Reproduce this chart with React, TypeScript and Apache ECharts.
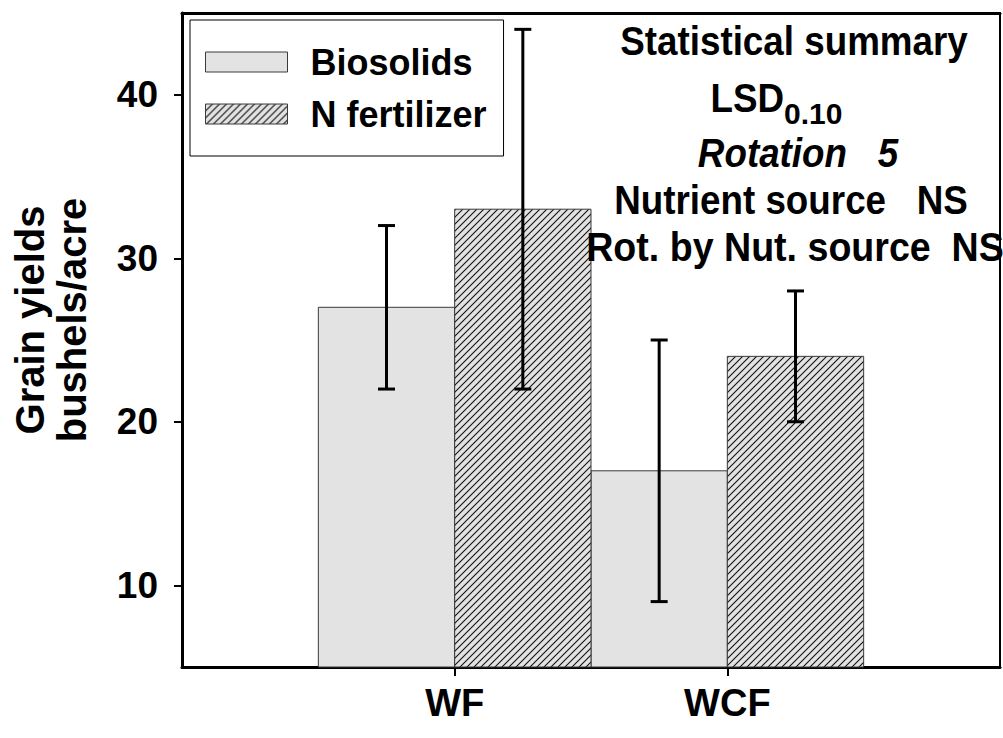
import React, { useEffect, useRef } from "react";
import * as echarts from "echarts";

const categories = ["WF", "WCF"];
const biosolids = [27, 17];
const biosolidsLow = [22, 9];
const biosolidsHigh = [32, 25];
const nFertilizer = [33, 24];
const nFertilizerLow = [22, 20];
const nFertilizerHigh = [44, 28];
const yTicks = [10, 20, 30, 40];
const seriesNames = ["Biosolids", "N fertilizer"];

const FONT = "'Liberation Sans', Arial, Helvetica, sans-serif";
const Y_MIN = 5;
const Y_MAX = 45;
const X_MIN = 0;
const X_MAX = 3;
const BAR_HALF = 0.5;
const SX = 0.92;

function makeHatch(): any {
  const s = 7;
  const c = document.createElement("canvas");
  c.width = s;
  c.height = s;
  const ctx = c.getContext("2d")!;
  ctx.fillStyle = "#e2e2e2";
  ctx.fillRect(0, 0, s, s);
  ctx.strokeStyle = "#111";
  ctx.lineWidth = 1.1;
  ctx.beginPath();
  ctx.moveTo(0, s);
  ctx.lineTo(s, 0);
  ctx.moveTo(-1, 1);
  ctx.lineTo(1, -1);
  ctx.moveTo(s - 1, s + 1);
  ctx.lineTo(s + 1, s - 1);
  ctx.stroke();
  return { image: c, repeat: "repeat" };
}

export default function App() {
  const ref = useRef<HTMLDivElement>(null);

  useEffect(() => {
    if (!ref.current) return;
    const chart = echarts.init(ref.current, null, { renderer: "svg" });
    const hatch = makeHatch();
    const solidFill = "#e3e3e3";
    const fills = [solidFill, hatch];

    const barData = (vals: number[]) => vals.map((v, i) => [i + 1, v]);
    const errData = (lo: number[], hi: number[]) => lo.map((l, i) => [i + 1, l, hi[i]]);

    const barRender = (side: number, fill: any) => (params: any, api: any) => {
      const xc = api.value(0);
      const v = api.value(1);
      const x0 = side === 0 ? xc - BAR_HALF : xc;
      const x1 = side === 0 ? xc : xc + BAR_HALF;
      const p0 = api.coord([x0, v]);
      const p1 = api.coord([x1, Y_MIN]);
      return {
        type: "rect",
        shape: { x: p0[0], y: p0[1], width: p1[0] - p0[0], height: p1[1] - p0[1] },
        style: { fill, stroke: "#3a3a3a", lineWidth: 1 },
      };
    };

    const errRender = (side: number) => (params: any, api: any) => {
      const xc = api.value(0);
      const xm = side === 0 ? xc - BAR_HALF / 2 : xc + BAR_HALF / 2;
      const lo = api.coord([xm, api.value(1)]);
      const hi = api.coord([xm, api.value(2)]);
      const cap = 8.5;
      const ls = { stroke: "#000", lineWidth: 3 };
      return {
        type: "group",
        children: [
          { type: "line", shape: { x1: lo[0], y1: lo[1], x2: hi[0], y2: hi[1] }, style: ls },
          { type: "line", shape: { x1: lo[0] - cap, y1: lo[1], x2: lo[0] + cap, y2: lo[1] }, style: ls },
          { type: "line", shape: { x1: hi[0] - cap, y1: hi[1], x2: hi[0] + cap, y2: hi[1] }, style: ls },
        ],
      };
    };

    const boldText = { fontFamily: FONT, fontWeight: "bold", fill: "#000" };
    const statText = (x: number, y: number, text: string, extra: any = {}, sx: number = SX) => ({
      type: "text",
      x,
      y,
      z: 20,
      scaleX: sx,
      style: { ...boldText, text, fontSize: 40, textAlign: "center", textVerticalAlign: "middle", ...extra },
    });

    const option: any = {
      animation: false,
      backgroundColor: "#fff",
      grid: { left: 182, right: 3, top: 13, bottom: 71, containLabel: false },
      legend: {
        orient: "vertical",
        left: 190,
        top: 20,
        padding: [24, 17, 24, 15],
        itemGap: 16,
        itemWidth: 82,
        itemHeight: 20,
        borderColor: "#000",
        borderWidth: 1,
        backgroundColor: "#fff",
        selectedMode: false,
        textStyle: {
          fontSize: 36,
          fontWeight: "bold",
          fontFamily: FONT,
          color: "#000",
          padding: [0, 0, 0, 18],
        },
        data: [
          { name: seriesNames[0], icon: "rect", itemStyle: { color: solidFill, borderColor: "#3a3a3a", borderWidth: 1 } },
          { name: seriesNames[1], icon: "rect", itemStyle: { color: hatch, borderColor: "#3a3a3a", borderWidth: 1 } },
        ],
      },
      xAxis: [
        {
          type: "value",
          min: X_MIN,
          max: X_MAX,
          axisLine: { show: true, onZero: false, lineStyle: { color: "#000", width: 3 } },
          axisTick: { show: true, customValues: [1, 2], length: 9, lineStyle: { color: "#000", width: 2 } },
          axisLabel: {
            customValues: [1, 2],
            formatter: (v: number) => categories[Math.round(v) - 1] ?? "",
            fontSize: 38,
            fontWeight: "bold",
            fontFamily: FONT,
            color: "#000",
            margin: 17,
          },
          splitLine: { show: false },
        },
        {
          type: "value",
          position: "top",
          min: X_MIN,
          max: X_MAX,
          axisLine: { show: true, onZero: false, lineStyle: { color: "#000", width: 3 } },
          axisTick: { show: false },
          axisLabel: { show: false },
          splitLine: { show: false },
        },
      ],
      yAxis: [
        {
          type: "value",
          min: Y_MIN,
          max: Y_MAX,
          axisLine: { show: true, onZero: false, lineStyle: { color: "#000", width: 3 } },
          axisTick: { show: true, customValues: yTicks, length: 8, lineStyle: { color: "#000", width: 2 } },
          axisLabel: {
            customValues: yTicks,
            fontSize: 37,
            fontWeight: "bold",
            fontFamily: FONT,
            color: "#000",
            margin: 24,
          },
          splitLine: { show: false },
        },
        {
          type: "value",
          position: "right",
          min: Y_MIN,
          max: Y_MAX,
          axisLine: { show: true, onZero: false, lineStyle: { color: "#000", width: 2 } },
          axisTick: { show: false },
          axisLabel: { show: false },
          splitLine: { show: false },
        },
      ],
      series: [
        {
          name: seriesNames[0],
          type: "custom",
          renderItem: barRender(0, fills[0]),
          itemStyle: { color: solidFill },
          data: barData(biosolids),
          z: 2,
        },
        {
          name: seriesNames[1],
          type: "custom",
          renderItem: barRender(1, fills[1]),
          itemStyle: { color: hatch },
          data: barData(nFertilizer),
          z: 2,
        },
        {
          name: seriesNames[0] + " error",
          type: "custom",
          renderItem: errRender(0),
          data: errData(biosolidsLow, biosolidsHigh),
          z: 5,
        },
        {
          name: seriesNames[1] + " error",
          type: "custom",
          renderItem: errRender(1),
          data: errData(nFertilizerLow, nFertilizerHigh),
          z: 5,
        },
      ],
      graphic: [
        { type: "text", x: 30, y: 320, rotation: Math.PI / 2, style: { ...boldText, text: "Grain yields", fontSize: 40, textAlign: "center", textVerticalAlign: "middle" } },
        { type: "text", x: 72, y: 320, rotation: Math.PI / 2, style: { ...boldText, text: "bushels/acre", fontSize: 40, textAlign: "center", textVerticalAlign: "middle" } },
        statText(794, 41, "Statistical summary"),
        statText(784, 98, "LSD", { textAlign: "right" }),
        statText(784, 113, "0.10", { textAlign: "left", fontSize: 30 }, 1),
        statText(798, 153, "Rotation   5", { fontStyle: "italic" }),
        statText(791, 200, "Nutrient source   NS"),
        statText(795, 247, "Rot. by Nut. source  NS", {}, 0.94),
      ],
    };

    chart.setOption(option);
    return () => chart.dispose();
  }, []);

  return (
    <div
      ref={ref}
      style={{ position: "fixed", left: 0, top: 0, width: 1003, height: 738, background: "#fff" }}
    />
  );
}
